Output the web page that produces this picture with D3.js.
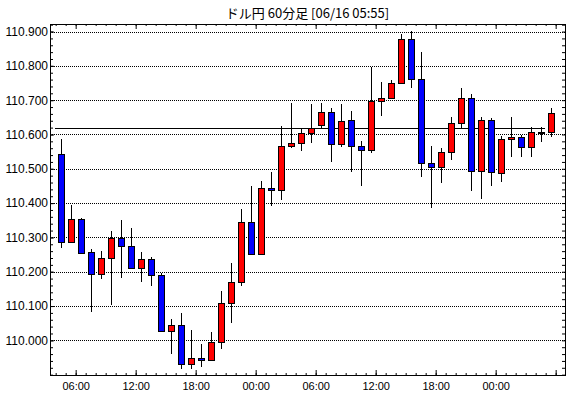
<!DOCTYPE html>
<html>
<head>
<meta charset="utf-8">
<script src="https://cdn.jsdelivr.net/npm/d3@7"></script>
<style>
  body { margin: 0; background: #fff; }
  svg text { fill: #000; }
</style>
</head>
<body>
<div id="chart"></div>
<script>
// 60-minute candles, 06/14 04:00 -> 06/16 05:00
const title = "ドル円 60分足 [06/16 05:55]";
const firstCandle = Date.UTC(2021, 5, 14, 4);

const opens = [110.542, 110.287, 110.353, 110.257, 110.192, 110.239, 110.297, 110.274, 110.212, 110.236,
  110.189, 110.026, 110.044, 109.930, 109.950, 109.942, 109.994, 110.110, 110.169, 110.344,
  110.251, 110.443, 110.437, 110.566, 110.574, 110.603, 110.627, 110.665, 110.571, 110.641,
  110.566, 110.554, 110.697, 110.706, 110.749, 110.878, 110.761, 110.516, 110.504, 110.548,
  110.633, 110.706, 110.493, 110.641, 110.487, 110.586, 110.592, 110.563, 110.606, 110.606];
const highs = [110.587, 110.394, 110.357, 110.265, 110.260, 110.319, 110.351, 110.327, 110.257, 110.242,
  110.195, 110.062, 110.080, 110.030, 109.989, 110.024, 110.143, 110.224, 110.382, 110.450,
  110.464, 110.492, 110.626, 110.691, 110.616, 110.688, 110.691, 110.676, 110.688, 110.668,
  110.580, 110.796, 110.752, 110.758, 110.893, 110.901, 110.840, 110.566, 110.560, 110.650,
  110.735, 110.717, 110.650, 110.647, 110.595, 110.652, 110.599, 110.623, 110.621, 110.676];
const lows = [110.270, 110.287, 110.252, 110.083, 110.180, 110.104, 110.183, 110.210, 110.171, 110.159,
  110.024, 109.961, 109.917, 109.917, 109.923, 109.942, 109.976, 110.051, 110.159, 110.250,
  110.250, 110.392, 110.410, 110.560, 110.553, 110.576, 110.618, 110.519, 110.564, 110.490,
  110.451, 110.545, 110.653, 110.706, 110.746, 110.735, 110.477, 110.385, 110.459, 110.527,
  110.618, 110.436, 110.413, 110.451, 110.462, 110.535, 110.535, 110.535, 110.579, 110.594];
const closes = [110.287, 110.353, 110.255, 110.192, 110.239, 110.297, 110.274, 110.212, 110.236, 110.189,
  110.026, 110.044, 109.930, 109.950, 109.942, 109.994, 110.108, 110.169, 110.344, 110.251,
  110.443, 110.437, 110.566, 110.574, 110.603, 110.618, 110.665, 110.571, 110.638, 110.566,
  110.554, 110.697, 110.706, 110.749, 110.878, 110.761, 110.516, 110.504, 110.548, 110.633,
  110.706, 110.493, 110.641, 110.490, 110.586, 110.592, 110.563, 110.606, 110.608, 110.662];

const refLevel = 110.618;
const yTickLabels = ["110.000", "110.100", "110.200", "110.300", "110.400",
  "110.500", "110.600", "110.700", "110.800", "110.900"];
const xTickLabels = ["06:00", "12:00", "18:00", "00:00", "06:00", "12:00", "18:00", "00:00"];

var w = 570,
  h = 398;
var mLeft = 50,
  mRight = 565,
  mTop = 24,
  mBottom = 375;

const hour = 3600 * 1000;
var candles = opens.map((o, i) => ({
  t: new Date(firstCandle + i * hour),
  o: o,
  h: highs[i],
  l: lows[i],
  c: closes[i],
}));

var x = d3
  .scaleUtc()
  .domain([new Date(firstCandle - 0.566 * hour), new Date(firstCandle + 50.934 * hour)])
  .range([mLeft, mRight]);

var y = d3.scaleLinear().domain([109.899, 110.922]).range([mBottom, mTop]);

var svg = d3
  .select("#chart")
  .append("svg")
  .attr("width", w)
  .attr("height", h)
  .style("font-family", "'Liberation Sans', Arial, sans-serif");

svg
  .append("text")
  .attr("x", (mLeft + mRight) / 2)
  .attr("y", 18)
  .attr("text-anchor", "middle")
  .style("font-family", "'Noto Sans CJK JP', sans-serif")
  .style("font-size", "13px")
  .text(title);

// grid
var yMajor = yTickLabels.map(Number);
svg
  .append("g")
  .selectAll("line")
  .data(yMajor)
  .enter()
  .append("line")
  .attr("x1", mLeft)
  .attr("x2", mRight)
  .attr("y1", (d) => Math.round(y(d)) + 0.5)
  .attr("y2", (d) => Math.round(y(d)) + 0.5)
  .attr("stroke", "#000")
  .attr("stroke-dasharray", "1,1");

// reference line
svg
  .append("line")
  .attr("x1", mLeft + 5)
  .attr("x2", mRight - 20)
  .attr("y1", Math.round(y(refLevel)) + 0.5)
  .attr("y2", Math.round(y(refLevel)) + 0.5)
  .attr("stroke", "#000")
  .attr("stroke-width", 1.2);

// candles
var cx = (d) => Math.round(x(new Date(d.t.getTime() + hour / 2))) + 0.5;
var g = svg.append("g").attr("shape-rendering", "crispEdges");

g.selectAll(".wick")
  .data(candles)
  .enter()
  .append("line")
  .attr("class", "wick")
  .attr("x1", cx)
  .attr("x2", cx)
  .attr("y1", (d) => Math.round(y(d.h)))
  .attr("y2", (d) => Math.round(y(d.l)))
  .attr("stroke", "#000");

g.selectAll(".body")
  .data(candles)
  .enter()
  .append("rect")
  .attr("class", "body")
  .attr("x", (d) => cx(d) - 3)
  .attr("y", (d) => Math.round(y(Math.max(d.o, d.c))) + 0.5)
  .attr("width", 6)
  .attr("height", (d) => Math.max(1, Math.round(y(Math.min(d.o, d.c))) - Math.round(y(Math.max(d.o, d.c)))))
  .attr("fill", (d) => (d.c >= d.o ? "#ff0000" : "#0000ff"))
  .attr("stroke", "#000");

// axes
var hours = d3.utcHour.range(x.domain()[0], x.domain()[1]);
var majorHours = hours.filter((d) => d.getUTCHours() % 6 == 0);

svg
  .append("g")
  .attr("transform", `translate(0,${mBottom})`)
  .call(d3.axisBottom(x).tickValues(hours).tickSizeInner(-2).tickSizeOuter(0).tickFormat(""))
  .call((a) => a.select(".domain").remove());

svg
  .append("g")
  .attr("transform", `translate(0,${mBottom})`)
  .call(
    d3
      .axisBottom(x)
      .tickValues(majorHours)
      .tickSizeInner(-5)
      .tickSizeOuter(0)
      .tickPadding(7)
      .tickFormat((d, i) => xTickLabels[i])
  )
  .call((a) => a.select(".domain").remove())
  .selectAll("text")
  .style("font-size", "11px")
  .style("font-family", "'Liberation Sans', Arial, sans-serif");

svg
  .append("g")
  .attr("transform", `translate(0,${mTop})`)
  .call(d3.axisTop(x).tickValues(hours).tickSizeInner(-2).tickSizeOuter(0).tickFormat(""))
  .call((a) => a.select(".domain").remove());
svg
  .append("g")
  .attr("transform", `translate(0,${mTop})`)
  .call(d3.axisTop(x).tickValues(majorHours).tickSizeInner(-5).tickSizeOuter(0).tickFormat(""))
  .call((a) => a.select(".domain").remove());

var yMinor = d3.range(0, 52).map((i) => 109.9 + i * 0.02);

svg
  .append("g")
  .attr("transform", `translate(${mLeft},0)`)
  .call(d3.axisLeft(y).tickValues(yMinor).tickSizeInner(-3).tickSizeOuter(0).tickFormat(""))
  .call((a) => a.select(".domain").remove());

svg
  .append("g")
  .attr("transform", `translate(${mLeft},0)`)
  .call(
    d3
      .axisLeft(y)
      .tickValues(yMajor)
      .tickSizeInner(-4)
      .tickSizeOuter(0)
      .tickPadding(2)
      .tickFormat((d, i) => yTickLabels[i])
  )
  .call((a) => a.select(".domain").remove())
  .selectAll("text")
  .style("font-size", "12px")
  .style("font-family", "'Liberation Sans', Arial, sans-serif");

svg
  .append("g")
  .attr("transform", `translate(${mRight},0)`)
  .call(d3.axisRight(y).tickValues(yMinor).tickSizeInner(-3).tickSizeOuter(0).tickFormat(""))
  .call((a) => a.select(".domain").remove());

// frame
svg
  .append("rect")
  .attr("x", mLeft + 0.5)
  .attr("y", mTop + 0.5)
  .attr("width", mRight - mLeft)
  .attr("height", mBottom - mTop)
  .attr("fill", "none")
  .attr("stroke", "#000");
</script>
</body>
</html>
